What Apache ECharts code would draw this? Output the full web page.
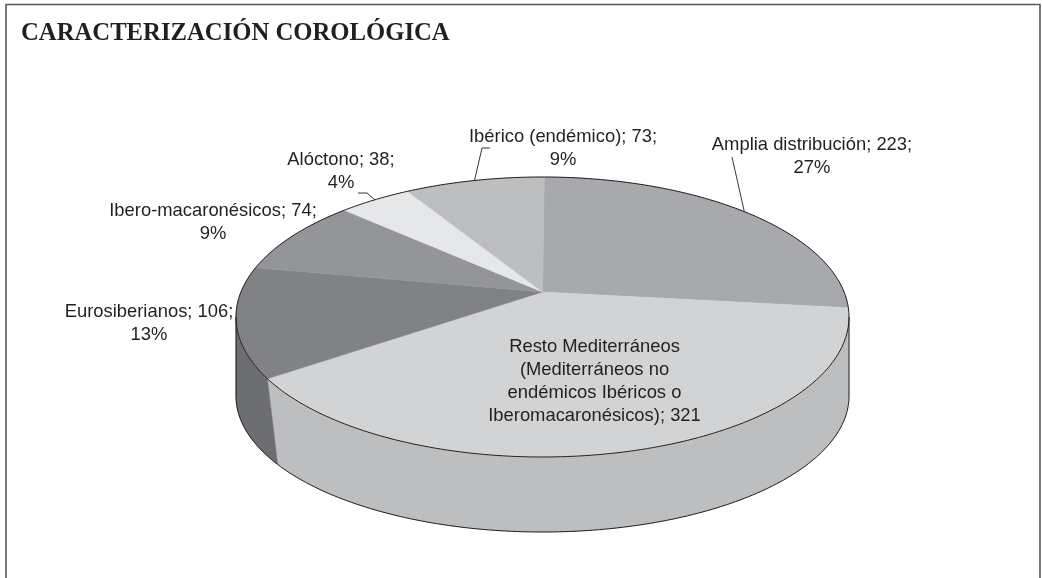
<!DOCTYPE html>
<html>
<head>
<meta charset="utf-8">
<style>html,body{margin:0;padding:0;background:#fff}#c{width:1042px;height:578px}</style>
<script src="https://cdn.jsdelivr.net/npm/echarts@6/dist/echarts.min.js"></script>
</head>
<body>
<div id="c"></div>
<script>
// ---- data ----
const categories = ['Amplia distribución', 'Resto Mediterráneos', 'Eurosiberianos', 'Ibero-macaronésicos', 'Alóctono', 'Ibérico (endémico)'];
const counts = [223, 321, 106, 74, 38, 73];
const percentLabels = ['27%', '', '13%', '9%', '4%', '9%'];
const labelTexts = [
  'Amplia distribución; 223;\n27%',
  'Resto Mediterráneos\n(Mediterráneos no\nendémicos Ibéricos o\nIberomacaronésicos); 321',
  'Eurosiberianos; 106;\n13%',
  'Ibero-macaronésicos; 74;\n9%',
  'Alóctono; 38;\n4%',
  'Ibérico (endémico); 73;\n9%'
];
const titleText = 'CARACTERIZACIÓN COROLÓGICA';

// ---- styling and layout ----
const topColors = ['#a7a9ac', '#d1d3d4', '#808285', '#939598', '#e6e7e8', '#bcbec0'];
const sideColors = ['#939598', '#bcbec0', '#6d6e71', '#808285', '#d1d3d4', '#a7a9ac'];
const labelAnchors = [[812, 156], [594.5, 381.5], [149, 323], [213, 222], [341, 171], [563, 148]];
const leaderElbows = [[[732, 157]], null, null, null, [[358, 193], [367, 193]], [[490, 148], [482, 148]]];
const textColor = '#231f20';
const fontSize = 18.4;
const lineH = 23;

// Perspective pie: a disc mapped on an ellipse by a projective map
const topDisc = { cx: 542.5, cy: 317, rx: 306.5, ry: 140, a: -0.179 };
const botDisc = { cx: 542.5, cy: 396, rx: 306.5, ry: 136, a: -0.10 };
const startAngle = 0.4;
const total = counts.reduce((s, v) => s + v, 0);
const DEG = Math.PI / 180;

function project(d, deg) {
  const u = Math.sin(deg * DEG), v = -Math.cos(deg * DEG);
  const den = 1 + d.a * v;
  return [d.cx + d.rx * u * Math.sqrt(1 - d.a * d.a) / den, d.cy + d.ry * (v + d.a) / den];
}
function arc(d, a0, a1) {
  const n = Math.max(2, Math.ceil(Math.abs(a1 - a0)));
  const pts = [];
  for (let i = 0; i <= n; i++) pts.push(project(d, a0 + (a1 - a0) * i / n));
  return pts;
}
const frontStart = Math.acos(topDisc.a) / DEG;      // right silhouette of the top face
const frontEnd = 360 - frontStart;                  // left silhouette of the top face
const botStart = Math.acos(botDisc.a) / DEG;        // right silhouette of the bottom face
const botEnd = 360 - botStart;                      // left silhouette of the bottom face

function sliceAngles(i) {
  let before = 0;
  for (let k = 0; k < i; k++) before += counts[k];
  return [startAngle + before / total * 360, startAngle + (before + counts[i]) / total * 360];
}

function renderItem(params) {
  const i = params.dataIndex;
  const [a0, a1] = sliceAngles(i);
  const kids = [];
  const edge = { stroke: '#231f20', lineWidth: 1 };
  // side wall (only the part facing the viewer)
  const f0 = Math.max(a0, frontStart), f1 = Math.min(a1, frontEnd);
  if (f1 > f0) {
    const b0 = f0 === frontStart ? botStart : f0, b1 = f1 === frontEnd ? botEnd : f1;
    const t = arc(topDisc, f0, f1), b = arc(botDisc, b0, b1);
    kids.push({ type: 'polygon', z2: 1, shape: { points: t.concat(b.slice().reverse()) },
      style: { fill: sideColors[i], stroke: sideColors[i], lineWidth: 0.5 } });
    kids.push({ type: 'polyline', z2: 3, shape: { points: b }, style: Object.assign({ fill: null }, edge) });
    if (f0 === frontStart) {
      const x = topDisc.cx + topDisc.rx;
      kids.push({ type: 'line', z2: 3, shape: { x1: x, y1: topDisc.cy, x2: x, y2: botDisc.cy }, style: edge });
    }
    if (f1 === frontEnd) {
      const x = topDisc.cx - topDisc.rx;
      kids.push({ type: 'line', z2: 3, shape: { x1: x, y1: topDisc.cy, x2: x, y2: botDisc.cy }, style: edge });
    }
  }
  // top face
  const apex = [topDisc.cx, topDisc.cy + topDisc.ry * topDisc.a];
  const rim = arc(topDisc, a0, a1);
  kids.push({ type: 'polygon', z2: 2, shape: { points: [apex].concat(rim) },
    style: { fill: topColors[i], stroke: topColors[i], lineWidth: 0.5 } });
  kids.push({ type: 'polyline', z2: 3, shape: { points: rim }, style: Object.assign({ fill: null }, edge) });
  // leader line, ends at the slice's mid angle on the rim
  if (leaderElbows[i]) {
    const pts = leaderElbows[i].concat([project(topDisc, (a0 + a1) / 2)]);
    kids.push({ type: 'polyline', z2: 3, shape: { points: pts },
      style: { fill: null, stroke: '#231f20', lineWidth: 0.9 } });
  }
  // label
  kids.push({ type: 'text', z2: 5, x: labelAnchors[i][0], y: labelAnchors[i][1],
    style: { text: labelTexts[i], fill: textColor, align: 'center', verticalAlign: 'middle',
      font: fontSize + 'px "Liberation Sans", Arial, sans-serif', lineHeight: lineH } });
  return { type: 'group', children: kids };
}

const chart = echarts.init(document.getElementById('c'), null, { renderer: 'canvas' });
chart.setOption({
  animation: false,
  backgroundColor: '#ffffff',
  title: { text: titleText, left: 16, top: 16,
    textStyle: { fontFamily: '"Liberation Serif", serif', fontWeight: 'bold', fontSize: 24.7, color: textColor } },
  graphic: [{ type: 'polyline', silent: true, z: -1,
    shape: { points: [[6, 578], [6, 4.5], [1040, 4.5], [1040, 578]] },
    style: { fill: null, stroke: '#58595b', lineWidth: 1.6 } }],
  series: [{ type: 'custom', coordinateSystem: 'none', renderItem: renderItem,
    data: categories.map((n, i) => ({ name: n, value: counts[i] })) }]
});
</script>
</body>
</html>
